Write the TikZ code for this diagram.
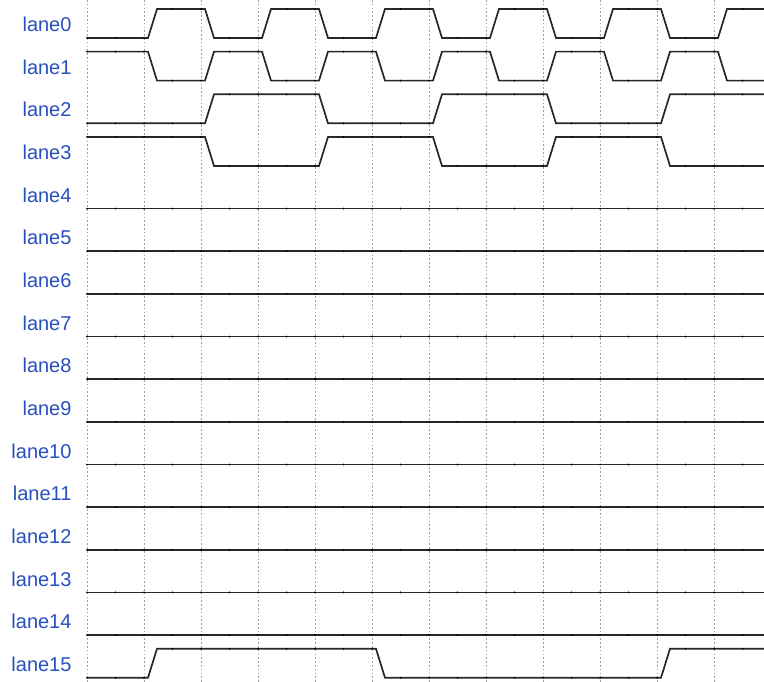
\documentclass[tikz,border=0pt]{standalone}
\usepackage{fontspec}
\setmainfont{Liberation Sans}
\definecolor{lanelabel}{RGB}{40,80,190}
\definecolor{wavecol}{RGB}{40,40,40}
\definecolor{gridcol}{RGB}{160,160,160}
\newcommand\wavedots[2]{%
  \foreach \j in {0,...,23}{%
    \pgfmathtruncatemacro\r{mod(\j,2)==0 ? max(\j/2-1,0) : (\j-1)/2}%
    \pgfmathtruncatemacro\lev{#2}%
    \fill[black] ({87+28.5*\j},{(\lev==1 ? -9 : -38) - 42.65*#1}) circle[radius=1pt];
  }}
\begin{document}
\begin{tikzpicture}[x=1pt,y=1pt,
  gridline/.style={gridcol, line width=0.6pt, dash pattern=on 1.6pt off 2.2pt},
  wave/.style={wavecol, line width=1.7pt, line join=miter},
  lanename/.style={anchor=base east, inner sep=0pt, text=lanelabel, font=\fontsize{20}{24}\selectfont}]
\useasboundingbox (0,0) rectangle (764,-682);
\fill[white] (0,0) rectangle (764,-682);
% grid
\foreach \i in {0,...,11}{
  \coordinate (gt\i) at ({87+57*\i},0);
  \coordinate (gb\i) at ({87+57*\i},-682);
  \draw[gridline] (gt\i) -- (gb\i);
}
% labels
\foreach \k in {0,...,15}{
  \node[lanename] (lbl\k) at (71.7,{-31.7-42.65*\k}) {lane\k};
}
\def\hi{-9}\def\lo{-38}
% lane0
\begin{scope}[yshift=0pt]
\draw[wave] (87,\lo)--(148,\lo)--(157,\hi)--(205,\hi)--(214,\lo)--(262,\lo)--(271,\hi)--(319,\hi)--(328,\lo)--(376,\lo)--(385,\hi)--(433,\hi)--(442,\lo)--(490,\lo)--(499,\hi)--(547,\hi)--(556,\lo)--(604,\lo)--(613,\hi)--(661,\hi)--(670,\lo)--(718,\lo)--(727,\hi)--(764,\hi);
\end{scope}
% lane1
\begin{scope}[yshift=-42.65pt]
\draw[wave] (87,\hi)--(148,\hi)--(157,\lo)--(205,\lo)--(214,\hi)--(262,\hi)--(271,\lo)--(319,\lo)--(328,\hi)--(376,\hi)--(385,\lo)--(433,\lo)--(442,\hi)--(490,\hi)--(499,\lo)--(547,\lo)--(556,\hi)--(604,\hi)--(613,\lo)--(661,\lo)--(670,\hi)--(718,\hi)--(727,\lo)--(764,\lo);
\end{scope}
% lane2
\begin{scope}[yshift=-85.3pt]
\draw[wave] (87,\lo)--(205,\lo)--(214,\hi)--(319,\hi)--(328,\lo)--(433,\lo)--(442,\hi)--(547,\hi)--(556,\lo)--(661,\lo)--(670,\hi)--(764,\hi);
\end{scope}
% lane3
\begin{scope}[yshift=-127.95pt]
\draw[wave] (87,\hi)--(205,\hi)--(214,\lo)--(319,\lo)--(328,\hi)--(433,\hi)--(442,\lo)--(547,\lo)--(556,\hi)--(661,\hi)--(670,\lo)--(764,\lo);
\end{scope}
% lanes 4-14
\foreach \k in {4,...,14}{
  \begin{scope}[yshift={-42.65*\k}]
  \draw[wave] (87,\lo)--(764,\lo);
  \end{scope}
}
% lane15
\begin{scope}[yshift=-639.75pt]
\draw[wave] (87,\lo)--(148,\lo)--(157,\hi)--(376,\hi)--(385,\lo)--(661,\lo)--(670,\hi)--(764,\hi);
\end{scope}
% sample dots
\wavedots{0}{mod(\r,2)}
\wavedots{1}{1-mod(\r,2)}
\wavedots{2}{mod(floor(\r/2),2)}
\wavedots{3}{1-mod(floor(\r/2),2)}
\foreach \k in {4,...,14}{\wavedots{\k}{0}}
\wavedots{15}{(\r>=1)*(\r<=4)+(\r>=10)}
\end{tikzpicture}
\end{document}
